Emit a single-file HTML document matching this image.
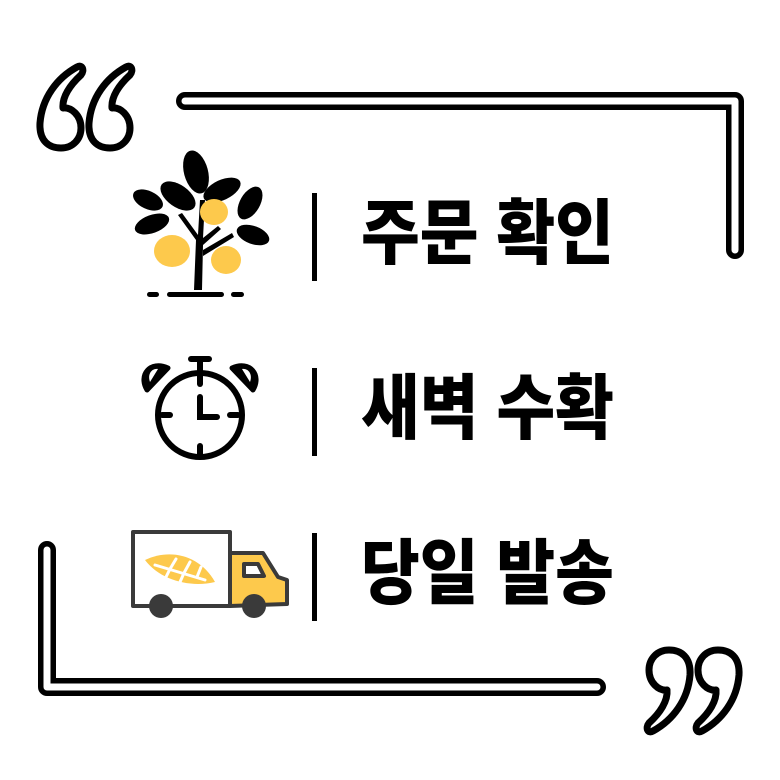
<!DOCTYPE html>
<html><head><meta charset="utf-8"><style>
html,body{margin:0;padding:0;background:#fff;}
body{width:780px;height:780px;position:relative;overflow:hidden;}
.t{position:absolute;left:361px;font-family:"Liberation Sans","Noto Sans CJK KR",sans-serif;font-weight:900;font-size:71px;line-height:71px;color:#000;white-space:nowrap;transform:scaleX(0.9);transform-origin:left top;}
</style></head><body>
<svg width="780" height="780" style="position:absolute;left:0;top:0">
<defs>
<path id="q" d="M40 4 C20 15,5 35,3 60 C2 78,12 85,24 85 C36 85,44 76,44 65 C44 52,34 44,26 45 C25 34,33 22,44 12 C48 7,45 1,40 4 Z" fill="#fff" stroke="#000" stroke-width="7" stroke-linejoin="round"/>
</defs>
<g fill="none" stroke-linecap="round" stroke-linejoin="round">
<path d="M185 101 L735 101 L735 250" stroke="#000" stroke-width="18"/>
<path d="M185 101 L735 101 L735 250" stroke="#fff" stroke-width="7"/>
<path d="M47 550 L47 687 L597 687" stroke="#000" stroke-width="18"/>
<path d="M47 550 L47 687 L597 687" stroke="#fff" stroke-width="7"/>
</g>
<use href="#q" x="37" y="63"/>
<use href="#q" x="86" y="63"/>
<g transform="rotate(180 696 693)">
<use href="#q" x="650" y="651"/>
<use href="#q" x="699" y="651"/>
</g>
<rect x="312" y="193" width="5" height="88" fill="#000"/>
<rect x="312" y="368" width="5" height="88" fill="#000"/>
<rect x="312" y="533" width="5" height="88" fill="#000"/>
<g>
<path d="M194 290 L196 240 L178 215 L182 213 L198 235 L200 200 L205 200 L203 238 L218 226 L221 229 L203 245 L202 290 Z" fill="#000"/>
<path d="M203 250 L232 233 L234 237 L203 256 Z" fill="#000"/>
<g fill="#000">
<ellipse cx="196" cy="172" rx="12" ry="22" transform="rotate(-15 196 172)"/>
<ellipse cx="222" cy="190" rx="20" ry="10" transform="rotate(-25 222 190)"/>
<ellipse cx="178" cy="196" rx="20" ry="11" transform="rotate(35 178 196)"/>
<ellipse cx="148" cy="200" rx="16" ry="9" transform="rotate(25 148 200)"/>
<ellipse cx="152" cy="224" rx="18" ry="9" transform="rotate(-20 152 224)"/>
<ellipse cx="250" cy="203" rx="10" ry="18" transform="rotate(30 250 203)"/>
<ellipse cx="253" cy="235" rx="17" ry="9" transform="rotate(20 253 235)"/>
</g>
<g fill="#fdc94c">
<ellipse cx="214" cy="212" rx="14" ry="13"/>
<ellipse cx="172" cy="251" rx="18" ry="16"/>
<ellipse cx="226" cy="260" rx="15" ry="14"/>
</g>
<g fill="#000">
<rect x="147" y="292" width="12" height="5" rx="2.5"/>
<rect x="167" y="292" width="57" height="5" rx="2.5"/>
<rect x="231" y="292" width="13" height="5" rx="2.5"/>
</g>
</g>
<g stroke="#000" stroke-width="6" fill="none" stroke-linecap="round">
<circle cx="200" cy="415" r="42"/>
<line x1="200" y1="373" x2="200" y2="362"/>
<line x1="191" y1="359" x2="209" y2="359"/>
<line x1="200" y1="376" x2="200" y2="384"/>
<line x1="200" y1="446" x2="200" y2="454"/>
<line x1="162" y1="415" x2="170" y2="415"/>
<line x1="230" y1="415" x2="238" y2="415"/>
<path d="M200 397 L200 417 L217 417"/>
</g>
<g fill="#000" stroke="#000" stroke-width="5" stroke-linejoin="round">
<path d="M147 390 C138 375,150 360,168 368 Z"/>
<path d="M253 390 C262 375,250 360,232 368 Z"/>
</g>
<path d="M150 382 C147 374,152 368,158 369 Z" fill="#fff"/>
<path d="M250 382 C253 374,248 368,242 369 Z" fill="#fff"/>
<g stroke="#3a3a3a" stroke-width="4" stroke-linejoin="round">
<rect x="133" y="532" width="97" height="74" fill="#fff"/>
<path d="M230 553 L263 553 L278 577 L287 580 L287 604 L230 606 Z" fill="#fdc94c"/>
<path d="M244 564 L258 564 L264 576 L244 576 Z" fill="#fff"/>
</g>
<path d="M145 560 C170 548,200 555,215 582 C190 588,160 580,145 560 Z" fill="#fdc94c"/>
<g stroke="#fff" stroke-width="3" fill="none" stroke-linecap="round">
<path d="M155 565 L205 580"/>
<path d="M170 569 L176 559"/><path d="M184 573 L190 562"/><path d="M197 577 L201 567"/>
<path d="M170 569 L166 577"/><path d="M184 573 L180 582"/>
</g>
<circle cx="161" cy="606" r="12" fill="#3a3a3a"/>
<circle cx="254" cy="606" r="12" fill="#3a3a3a"/>
</svg>
<div class="t" style="top:199px">주문 확인</div>
<div class="t" style="top:374px">새벽 수확</div>
<div class="t" style="top:539px">당일 발송</div>
</body></html>
